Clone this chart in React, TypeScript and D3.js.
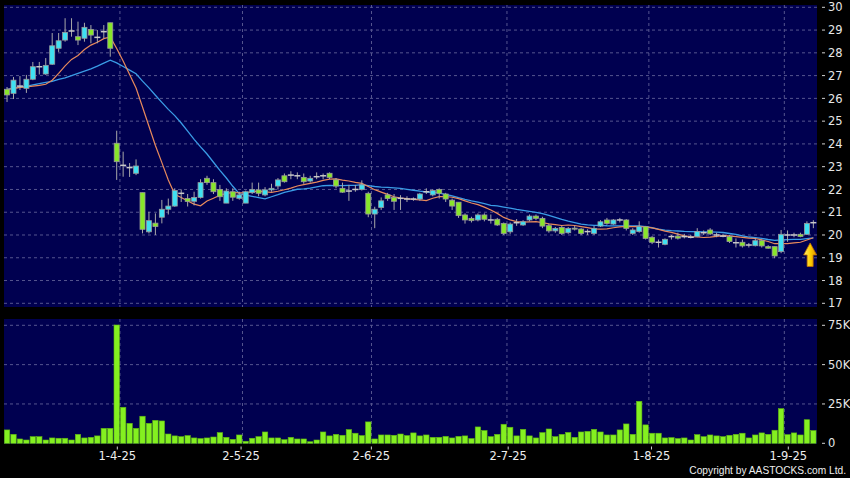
import React from 'react';
import * as d3 from 'd3';

// Bar index 0 = 1-4-25 (1 Apr 2025). Bars run from index -17 to 108.
const firstIndex = -17;

const opens = [
  26.40, 26.22, 26.54, 26.44, 26.84, 27.39, 27.07, 27.50, 28.20, 28.56, 28.96, 28.71, 28.64, 29.03, 28.68, 28.93, 29.32,
  24.03, 23.06, 22.96, 22.71, 21.86, 20.14, 20.52, 20.78, 21.13, 21.27, 21.83, 21.60, 21.48, 21.65, 22.49, 22.30, 22.00, 21.40, 21.90, 21.61,
  21.40, 21.86, 21.98, 21.76, 21.98, 22.15, 22.60, 22.63, 22.60, 22.53, 22.37, 22.56, 22.60, 22.71, 22.42, 22.05, 21.93, 22.00, 22.00,
  21.83, 20.92, 21.21, 21.76, 21.65, 21.61, 21.58, 21.58, 21.58, 21.90, 21.76, 22.00, 21.80, 21.53, 21.44, 20.88, 20.73, 20.66, 20.88, 20.66, 20.69,
  20.51, 20.14, 20.54, 20.44, 20.66, 20.83, 20.73, 20.41, 20.18, 20.33, 20.10, 20.30, 20.26, 20.15, 20.07, 20.39, 20.66, 20.48, 20.66, 20.66, 20.07, 20.15,
  20.37, 19.90, 19.68, 19.59, 19.93, 19.95, 19.93, 19.90, 19.93, 20.10, 20.22, 20.00, 19.95, 19.93, 19.66, 19.68, 19.56, 19.53, 19.75, 19.49, 19.49,
  19.27, 20.00, 20.00, 20.03, 20.03, 20.54,
];
const highs = [
  26.50, 26.94, 26.98, 27.03, 27.60, 27.60, 27.77, 28.87, 28.87, 29.52, 29.52, 29.37, 29.32, 29.22, 29.00, 29.22, 29.32,
  24.58, 23.66, 23.16, 23.32, 21.86, 21.02, 20.95, 21.54, 21.60, 22.05, 22.00, 21.80, 21.90, 22.45, 22.60, 22.45, 22.20, 22.05, 22.05, 21.90,
  21.95, 22.30, 22.30, 22.10, 22.25, 22.50, 22.70, 22.80, 22.75, 22.70, 22.60, 22.75, 22.70, 22.75, 22.50, 22.30, 22.20, 22.20, 22.40,
  21.90, 21.24, 21.65, 21.85, 21.80, 21.75, 21.70, 21.65, 21.85, 22.05, 22.00, 22.05, 21.85, 21.60, 21.44, 20.95, 20.80, 20.95, 20.95, 20.90, 20.75,
  20.55, 20.55, 20.70, 20.65, 20.90, 20.90, 20.80, 20.50, 20.35, 20.40, 20.35, 20.40, 20.30, 20.25, 20.40, 20.65, 20.75, 20.70, 20.75, 20.70, 20.30, 20.60,
  20.40, 19.95, 19.80, 19.85, 20.00, 20.10, 20.05, 20.00, 20.30, 20.20, 20.30, 20.10, 20.05, 20.00, 19.85, 19.80, 19.65, 19.85, 19.80, 19.55, 19.50,
  20.22, 20.20, 20.10, 20.10, 20.60, 20.65,
];
const lows = [
  25.84, 25.97, 26.37, 26.24, 26.80, 27.05, 27.03, 27.47, 28.04, 28.49, 28.71, 28.34, 28.49, 28.42, 28.42, 28.64, 27.83,
  22.42, 22.56, 22.55, 22.63, 20.07, 20.07, 20.00, 20.51, 20.90, 21.24, 21.45, 21.25, 21.30, 21.60, 22.20, 21.80, 21.50, 21.40, 21.50, 21.55,
  21.40, 21.80, 21.70, 21.70, 21.90, 22.00, 22.30, 22.45, 22.45, 22.25, 22.30, 22.45, 22.45, 22.45, 22.05, 21.85, 21.50, 21.90, 21.95,
  20.78, 20.30, 21.10, 21.50, 21.10, 21.10, 21.45, 21.50, 21.50, 21.80, 21.70, 21.60, 21.45, 21.10, 20.75, 20.50, 20.55, 20.60, 20.60, 20.50, 20.40,
  20.00, 20.05, 20.40, 20.40, 20.60, 20.65, 20.30, 20.10, 20.10, 20.00, 20.05, 20.20, 20.00, 20.00, 20.00, 20.35, 20.45, 20.45, 20.55, 20.20, 20.00, 20.10,
  19.80, 19.60, 19.45, 19.55, 19.80, 19.80, 19.85, 19.85, 19.90, 20.00, 20.00, 19.90, 19.90, 19.65, 19.45, 19.45, 19.45, 19.50, 19.45, 19.40, 18.98,
  19.20, 19.70, 19.90, 19.90, 20.00, 20.30,
];
const closes = [
  26.15, 26.80, 26.54, 26.84, 27.39, 27.39, 27.45, 28.31, 28.53, 28.90, 28.96, 28.56, 29.12, 28.78, 28.68, 28.93, 28.20,
  23.22, 23.06, 22.96, 23.03, 20.25, 20.63, 20.37, 21.13, 21.27, 21.95, 21.83, 21.47, 21.65, 22.30, 22.30, 21.90, 21.68, 21.93, 21.66, 21.76,
  21.90, 22.00, 21.83, 21.98, 22.05, 22.42, 22.34, 22.63, 22.60, 22.34, 22.49, 22.56, 22.60, 22.53, 22.15, 21.88, 21.93, 22.00, 22.20,
  20.92, 21.13, 21.50, 21.60, 21.48, 21.61, 21.58, 21.58, 21.80, 21.90, 21.95, 21.83, 21.58, 21.27, 20.85, 20.66, 20.63, 20.88, 20.69, 20.66, 20.44,
  20.07, 20.48, 20.54, 20.58, 20.83, 20.73, 20.39, 20.18, 20.29, 20.07, 20.29, 20.26, 20.07, 20.15, 20.29, 20.58, 20.51, 20.66, 20.66, 20.29, 20.22, 20.37,
  19.85, 19.68, 19.68, 19.81, 19.93, 19.86, 19.93, 19.90, 20.15, 20.10, 20.05, 20.00, 19.95, 19.71, 19.66, 19.52, 19.56, 19.75, 19.52, 19.42, 19.08,
  20.03, 20.00, 20.00, 19.93, 20.51, 20.54,
];
// volume in thousands of shares
const volumes = [
  8.5, 5.7, 2.75, 2.1, 4.2, 4.2, 2.1, 3.4, 3.2, 3.2, 2.1, 5.7, 3.4, 3.8, 4.7, 9.5, 9.5,
  75.2, 22.9, 12.7, 9.5, 17.2, 12.7, 14.6, 14.2, 5.9, 4.7, 4.2, 4.9, 3.4, 3.0, 3.4, 4.0, 6.8, 3.8, 2.5, 5.3,
  1.3, 3.2, 4.2, 7.2, 3.4, 3.4, 2.3, 3.8, 2.75, 2.75, 1.0, 2.1, 7.2, 4.7, 5.7, 5.1, 8.7, 6.4, 4.9,
  13.6, 2.75, 5.3, 5.3, 5.1, 5.9, 4.9, 6.6, 4.7, 5.3, 3.8, 3.8, 4.4, 3.4, 4.4, 4.7, 3.0, 10.4, 8.1, 4.2, 5.7,
  12.1, 10.2, 4.7, 8.9, 4.7, 3.4, 6.8, 9.1, 4.2, 5.7, 6.9, 3.8, 7.2, 7.6, 8.9, 7.2, 5.3, 5.3, 8.5, 12.3, 5.7, 26.7,
  11.7, 6.4, 6.4, 3.4, 3.6, 3.0, 3.4, 2.1, 5.5, 4.2, 5.3, 4.7, 4.2, 5.1, 5.7, 6.4, 3.4, 5.3, 6.6, 5.7, 8.3,
  22.0, 5.5, 6.6, 5.3, 15.0, 8.1,
];
// moving averages at the start of the window (earlier closes are outside the picture)
const ma10Lead = [26.39, 26.43, 26.48, 26.50, 26.54, 26.57, 26.62, 26.80, 27.10];
const ma20Lead = [
  26.40, 26.45, 26.50, 26.53, 26.59, 26.65, 26.70, 26.75, 26.83, 26.90,
  27.00, 27.10, 27.20, 27.30, 27.42, 27.55, 27.68, 27.56, 27.40,
];

const dateTickIndex = [0, 19, 39, 60, 82, 103];
const dateTickLabels = ['1-4-25', '2-5-25', '2-6-25', '2-7-25', '1-8-25', '1-9-25'];
const priceTicks = [17, 18, 19, 20, 21, 22, 23, 24, 25, 26, 27, 28, 29, 30];
const volumeTicks = [0, 25, 50, 75];
const volumeTickLabels = ['0', '25K', '50K', '75K'];
const arrowIndex = 107.5;
const arrowPrice = 19.65;

const W = 850;
const H = 478;
const FONT = 'DejaVu Sans, Verdana, sans-serif';

function movingAvg(period: number, lead: number[]) {
  return closes.map((_, p) => {
    if (p < period - 1) return lead[p];
    return d3.mean(closes.slice(p - period + 1, p + 1)) as number;
  });
}

export default function App() {
  const plotL = 4;
  const plotR = 817;
  const priceTop = 5;
  const priceBot = 307;
  const volTop = 319;
  const volBot = 444;

  const x = d3.scaleLinear().domain([0, 103]).range([116.7, 781.1]);
  const step = x(1) - x(0);
  const xLabel = d3.scaleLinear().domain([0, 103]).range([117.3, 788.3]);
  const y = d3.scaleLinear().domain([17, 30]).range([303.3, 7.3]);
  const yv = d3.scaleLinear().domain([0, 75]).range([443.3, 325.3]);

  const idx = closes.map((_, p) => p + firstIndex);
  const ma10 = movingAvg(10, ma10Lead);
  const ma20 = movingAvg(20, ma20Lead);

  const line = d3
    .line<number>()
    .x((_, p) => x(idx[p]))
    .y((v) => y(v));

  const bodyW = 5;
  const volW = 5.4;
  const gridColor = '#55558f';
  const upColor = '#3fe0f2';
  const downColor = '#88e62a';
  const flatColor = '#c8c8c8';

  const ax = x(arrowIndex);
  const ay = y(arrowPrice);
  const arrowPath = `M${ax},${ay} L${ax + 6.5},${ay + 12} L${ax + 3},${ay + 12} L${ax + 3},${ay + 23.5} L${ax - 3},${ay + 23.5} L${ax - 3},${ay + 12} L${ax - 6.5},${ay + 12} Z`;

  return (
    <svg
      width={W}
      height={H}
      viewBox={`0 0 ${W} ${H}`}
      style={{ position: 'fixed', left: 0, top: 0, display: 'block' }}
      fontFamily={FONT}
    >
      <defs>
        <linearGradient id="arrowGrad" x1="0" x2="1" y1="0" y2="0">
          <stop offset="0" stopColor="#fff07a" />
          <stop offset="0.5" stopColor="#ffd000" />
          <stop offset="1" stopColor="#e09000" />
        </linearGradient>
      </defs>
      <rect x={0} y={0} width={W} height={H} fill="#000" />
      {/* panels */}
      <rect x={plotL} y={priceTop} width={plotR - plotL} height={priceBot - priceTop} fill="#000050" />
      <rect x={plotL} y={volTop} width={plotR - plotL} height={volBot - volTop} fill="#000050" />

      {/* price grid */}
      {priceTicks.map((p) => (
        <line key={'pg' + p} x1={plotL} x2={plotR} y1={y(p)} y2={y(p)} stroke={gridColor} strokeDasharray="3,3" strokeWidth={1} />
      ))}
      {volumeTicks.filter((v) => v > 0).map((v) => (
        <line key={'vg' + v} x1={plotL} x2={plotR} y1={yv(v)} y2={yv(v)} stroke={gridColor} strokeDasharray="3,3" strokeWidth={1} />
      ))}
      {dateTickIndex.map((i) => (
        <g key={'dg' + i}>
          <line x1={x(i) + step / 2} x2={x(i) + step / 2} y1={priceTop} y2={priceBot} stroke={gridColor} strokeDasharray="3,3" />
          <line x1={x(i) + step / 2} x2={x(i) + step / 2} y1={volTop} y2={volBot} stroke={gridColor} strokeDasharray="3,3" />
        </g>
      ))}

      {/* moving averages */}
      <path d={line(ma20) || ''} fill="none" stroke="#3a9ce6" strokeWidth={1.3} />
      <path d={line(ma10) || ''} fill="none" stroke="#e88a5c" strokeWidth={1.2} />

      {/* candles */}
      {closes.map((c, p) => {
        const o = opens[p];
        const cx = x(idx[p]);
        const flat = Math.abs(c - o) < 0.005;
        const color = flat ? flatColor : c > o ? upColor : downColor;
        const top = y(Math.max(o, c));
        const bot = y(Math.min(o, c));
        return (
          <g key={'c' + p}>
            <line x1={cx} x2={cx} y1={y(highs[p])} y2={y(lows[p])} stroke="#a8a8a8" strokeWidth={1} />
            {flat ? (
              <line x1={cx - bodyW / 2 - 0.5} x2={cx + bodyW / 2 + 0.5} y1={top} y2={top} stroke={flatColor} strokeWidth={1.5} />
            ) : (
              <rect
                x={cx - bodyW / 2}
                y={top}
                width={bodyW}
                height={Math.max(1, bot - top)}
                fill={color}
                stroke="#9a9a9a"
                strokeWidth={0.8}
              />
            )}
          </g>
        );
      })}

      {/* arrow */}
      <path d={arrowPath} fill="url(#arrowGrad)" stroke="#c07000" strokeWidth={0.8} />

      {/* volume bars */}
      {volumes.map((v, p) => (
        <rect
          key={'v' + p}
          x={x(idx[p]) - volW / 2}
          y={yv(v)}
          width={volW}
          height={yv(0) - yv(v)}
          fill="#84f020"
          stroke="#5fb512"
          strokeWidth={0.6}
        />
      ))}

      {/* right axis: price */}
      {priceTicks.map((p) => (
        <g key={'pl' + p}>
          <line x1={822} x2={825} y1={y(p)} y2={y(p)} stroke="#d0d0d0" />
          <text x={828} y={y(p)} dy="0.36em" fontSize={11.5} fill="#e6e6e6">
            {p}
          </text>
        </g>
      ))}
      {/* right axis: volume */}
      {volumeTicks.map((v, k) => (
        <g key={'vl' + v}>
          <line x1={822} x2={825} y1={yv(v)} y2={yv(v)} stroke="#d0d0d0" />
          <text x={828} y={yv(v)} dy="0.36em" fontSize={11.5} fill="#e6e6e6">
            {volumeTickLabels[k]}
          </text>
        </g>
      ))}

      {/* date axis */}
      {dateTickIndex.map((i, k) => (
        <g key={'dl' + i}>
          <line x1={xLabel(i)} x2={xLabel(i)} y1={446.5} y2={449.5} stroke="#d0d0d0" />
          <text x={xLabel(i)} y={460} textAnchor="middle" fontSize={11.5} fill="#eeeeee">
            {dateTickLabels[k]}
          </text>
        </g>
      ))}

      <text x={846} y={474} textAnchor="end" fontSize={10.2} fontFamily="Liberation Sans, Arial, sans-serif" fill="#eeeeee">
        Copyright by AASTOCKS.com Ltd.
      </text>
    </svg>
  );
}
